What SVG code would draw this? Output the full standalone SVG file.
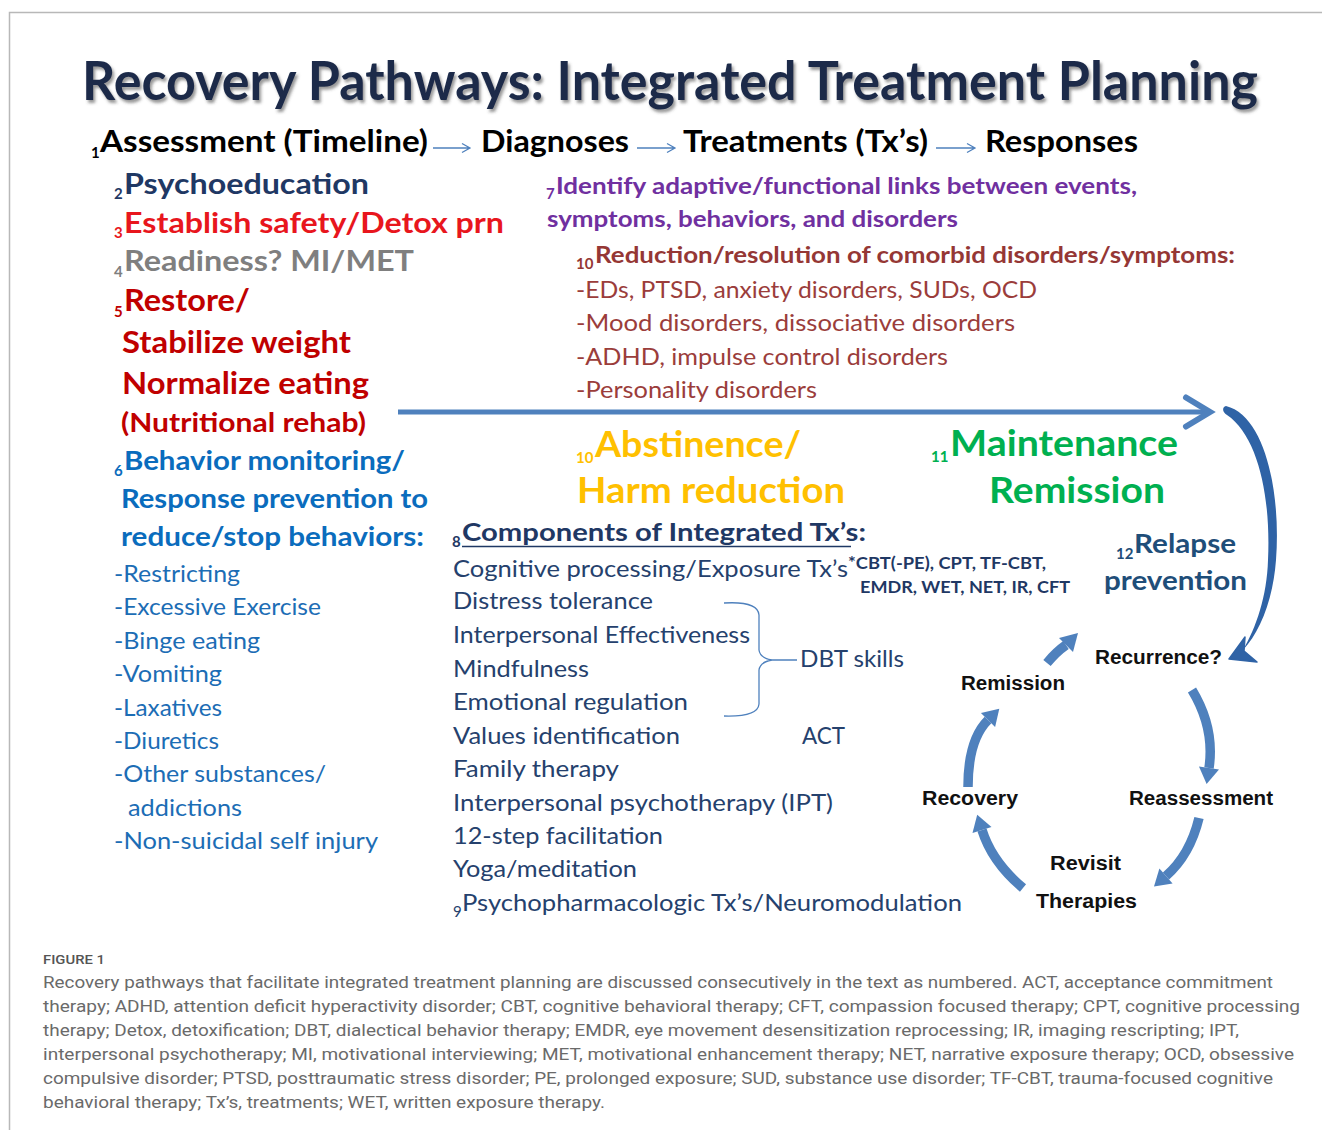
<svg xmlns="http://www.w3.org/2000/svg" width="1322" height="1130" viewBox="0 0 1322 1130">
  <defs>
    <filter id="titleShadow" x="-0.05" y="-0.5" width="1.1" height="2">
      <feDropShadow dx="2" dy="3" stdDeviation="1.8" flood-color="#444" flood-opacity="0.55"/>
    </filter>
    <style>
      .c { font-family: Lato, "Open Sans", "Liberation Sans", sans-serif; }
      .b { font-weight: 700; }
      .r { font-weight: 400; }
      .sub { font-family: Lato, "Liberation Sans", sans-serif; font-size: 15px; }
      .cyc { font-family: "Liberation Sans", Arial, sans-serif; font-weight: 700; font-size: 20px; fill: #111; }
      .cap { font-family: Roboto, "Liberation Sans", sans-serif; font-size: 17px; fill: #6a6a6a; }
      .thin { fill: none; stroke: #4f81bd; stroke-width: 1.3; }
      .cyclearc { fill: none; stroke: #4f81bd; stroke-width: 9.5; }
      .cyclehead { fill: #4f81bd; }
    </style>
  </defs>

  <rect width="1322" height="1130" fill="#fff"/>
  <!-- outer frame -->
  <path d="M9.5,1130 V12.5 H1322" fill="none" stroke="#b8b8b8" stroke-width="1.5"/>

  <!-- title -->
  <g id="title" filter="url(#titleShadow)">
    <text x="82" y="100" class="c b" font-size="53" fill="#1c2b4a" textLength="1176" lengthAdjust="spacingAndGlyphs">Recovery Pathways: Integrated Treatment Planning</text>
  </g>

  <!-- timeline header -->
  <g id="header" fill="#000">
    <text x="91" y="158" class="sub b">1</text>
    <text x="100" y="152" class="c b" font-size="31" textLength="328" lengthAdjust="spacingAndGlyphs">Assessment (Timeline)</text>
    <text x="481" y="152" class="c b" font-size="31" textLength="148" lengthAdjust="spacingAndGlyphs">Diagnoses</text>
    <text x="683" y="152" class="c b" font-size="31" textLength="245" lengthAdjust="spacingAndGlyphs">Treatments (Tx’s)</text>
    <text x="985" y="152" class="c b" font-size="31" textLength="153" lengthAdjust="spacingAndGlyphs">Responses</text>
  </g>

  <!-- early treatment steps -->
  <g id="step-psychoeducation" fill="#1f3864">
    <text x="114" y="199" class="sub b">2</text>
    <text x="124" y="194" class="c b" font-size="29" textLength="245" lengthAdjust="spacingAndGlyphs">Psychoeducation</text>
  </g>
  <g id="step-safety" fill="#e8161d">
    <text x="114" y="238" class="sub b">3</text>
    <text x="124" y="233" class="c b" font-size="29" textLength="380" lengthAdjust="spacingAndGlyphs">Establish safety/Detox prn</text>
  </g>
  <g id="step-readiness" fill="#7f7f7f">
    <text x="114" y="277" class="sub b">4</text>
    <text x="124" y="271" class="c b" font-size="29" textLength="290" lengthAdjust="spacingAndGlyphs">Readiness? MI/MET</text>
  </g>
  <g id="step-weight" fill="#c00000">
    <text x="114" y="317" class="sub b">5</text>
    <text x="124" y="311" class="c b" font-size="30" textLength="126" lengthAdjust="spacingAndGlyphs">Restore/</text>
    <text x="122" y="353" class="c b" font-size="30" textLength="229" lengthAdjust="spacingAndGlyphs">Stabilize weight</text>
    <text x="122" y="394" class="c b" font-size="30" textLength="247" lengthAdjust="spacingAndGlyphs">Normalize eating</text>
    <text x="121" y="432" class="c b" font-size="27" textLength="245" lengthAdjust="spacingAndGlyphs">(Nutritional rehab)</text>
  </g>
  <g id="step-behavior" fill="#0a6cbd">
    <text x="114" y="476" class="sub b">6</text>
    <text x="124" y="470" class="c b" font-size="27" textLength="281" lengthAdjust="spacingAndGlyphs">Behavior monitoring/</text>
    <text x="121" y="508" class="c b" font-size="27" textLength="307" lengthAdjust="spacingAndGlyphs">Response prevention to</text>
    <text x="121" y="546" class="c b" font-size="27" textLength="303" lengthAdjust="spacingAndGlyphs">reduce/stop behaviors:</text>
  </g>
  <g id="behaviors-list" class="c r" font-size="23" fill="#1c6db5">
    <text x="114" y="582" textLength="126" lengthAdjust="spacingAndGlyphs">-Restricting</text>
    <text x="114" y="615" textLength="207" lengthAdjust="spacingAndGlyphs">-Excessive  Exercise</text>
    <text x="114" y="649" textLength="146" lengthAdjust="spacingAndGlyphs">-Binge eating</text>
    <text x="114" y="682" textLength="108" lengthAdjust="spacingAndGlyphs">-Vomiting</text>
    <text x="114" y="716" textLength="108" lengthAdjust="spacingAndGlyphs">-Laxatives</text>
    <text x="114" y="749" textLength="105" lengthAdjust="spacingAndGlyphs">-Diuretics</text>
    <text x="114" y="782" textLength="212" lengthAdjust="spacingAndGlyphs">-Other  substances/</text>
    <text x="128" y="816" textLength="114" lengthAdjust="spacingAndGlyphs">addictions</text>
    <text x="114" y="849" textLength="264" lengthAdjust="spacingAndGlyphs">-Non-suicidal  self  injury</text>
  </g>

  <!-- links and comorbidity -->
  <g id="step-links" fill="#7030a0">
    <text x="546" y="199" class="sub b">7</text>
    <text x="556" y="194" class="c b" font-size="23" textLength="581" lengthAdjust="spacingAndGlyphs">Identify adaptive/functional  links between events,</text>
    <text x="547" y="227" class="c b" font-size="23" textLength="411" lengthAdjust="spacingAndGlyphs">symptoms,  behaviors,  and disorders</text>
  </g>
  <g id="step-comorbid" fill="#953735">
    <text x="576" y="269" class="sub b">10</text>
    <text x="595" y="263" class="c b" font-size="22" textLength="640" lengthAdjust="spacingAndGlyphs">Reduction/resolution  of comorbid  disorders/symptoms:</text>
    <g class="c r" font-size="23" fill="#9b3d3b">
      <text x="576" y="298" textLength="461" lengthAdjust="spacingAndGlyphs">-EDs,  PTSD,  anxiety disorders,  SUDs,  OCD</text>
      <text x="576" y="331" textLength="439" lengthAdjust="spacingAndGlyphs">-Mood disorders,  dissociative disorders</text>
      <text x="576" y="365" textLength="372" lengthAdjust="spacingAndGlyphs">-ADHD,  impulse control disorders</text>
      <text x="576" y="398" textLength="241" lengthAdjust="spacingAndGlyphs">-Personality disorders</text>
    </g>
  </g>

  <!-- outcomes -->
  <g id="outcome-abstinence" fill="#ffc000">
    <text x="576" y="463" class="sub b">10</text>
    <text x="595" y="457" class="c b" font-size="36" textLength="206" lengthAdjust="spacingAndGlyphs">Abstinence/</text>
    <text x="577" y="503" class="c b" font-size="36" textLength="268" lengthAdjust="spacingAndGlyphs">Harm reduction</text>
  </g>
  <g id="outcome-maintenance" fill="#00b050">
    <text x="931" y="462" class="sub b">11</text>
    <text x="950" y="456" class="c b" font-size="36" textLength="228" lengthAdjust="spacingAndGlyphs">Maintenance</text>
    <text x="989" y="503" class="c b" font-size="36" textLength="176" lengthAdjust="spacingAndGlyphs">Remission</text>
  </g>

  <!-- treatment components -->
  <g id="components" fill="#1f3864">
    <text x="452" y="547" class="sub b">8</text>
    <text x="462" y="541" class="c b" font-size="24.5" textLength="404" lengthAdjust="spacingAndGlyphs">Components of Integrated Tx’s:</text>
    <line x1="462" y1="546.5" x2="851" y2="546.5" stroke="#1f3864" stroke-width="1.6"/>
    <g class="c r" font-size="23" fill="#25416d">
      <text x="453" y="577" textLength="395" lengthAdjust="spacingAndGlyphs">Cognitive  processing/Exposure  Tx’s</text>
      <text x="453" y="609" textLength="200" lengthAdjust="spacingAndGlyphs">Distress tolerance</text>
      <text x="453" y="643" textLength="297" lengthAdjust="spacingAndGlyphs">Interpersonal  Effectiveness</text>
      <text x="453" y="677" textLength="136" lengthAdjust="spacingAndGlyphs">Mindfulness</text>
      <text x="453" y="710" textLength="235" lengthAdjust="spacingAndGlyphs">Emotional regulation</text>
      <text x="453" y="744" textLength="227" lengthAdjust="spacingAndGlyphs">Values identification</text>
      <text x="453" y="777" textLength="166" lengthAdjust="spacingAndGlyphs">Family therapy</text>
      <text x="453" y="811" textLength="380" lengthAdjust="spacingAndGlyphs">Interpersonal  psychotherapy (IPT)</text>
      <text x="453" y="844" textLength="210" lengthAdjust="spacingAndGlyphs">12-step facilitation</text>
      <text x="453" y="877" textLength="184" lengthAdjust="spacingAndGlyphs">Yoga/meditation</text>
      <text x="453" y="917" class="sub">9</text>
      <text x="462" y="911" textLength="500" lengthAdjust="spacingAndGlyphs">Psychopharmacologic Tx’s/Neuromodulation</text>
      <text x="800" y="667" textLength="104" lengthAdjust="spacingAndGlyphs">DBT skills</text>
      <text x="802" y="744" textLength="43" lengthAdjust="spacingAndGlyphs">ACT</text>
    </g>
    <g class="c b" font-size="17" fill="#1f3864">
      <text x="848" y="569" textLength="198" lengthAdjust="spacingAndGlyphs">*CBT(-PE), CPT, TF-CBT,</text>
      <text x="860" y="593" textLength="210" lengthAdjust="spacingAndGlyphs">EMDR, WET, NET, IR, CFT</text>
    </g>
  </g>

  <!-- relapse prevention -->
  <g id="relapse-prevention" fill="#1f4e79">
    <text x="1116" y="559" class="sub b" font-size="15">12</text>
    <text x="1134" y="553" class="c b" font-size="27" textLength="102" lengthAdjust="spacingAndGlyphs">Relapse</text>
    <text x="1104" y="590" class="c b" font-size="27" textLength="143" lengthAdjust="spacingAndGlyphs">prevention</text>
  </g>

  <!-- recovery cycle -->
  <g id="cycle-recurrence"><text x="1095" y="664" class="cyc" textLength="127" lengthAdjust="spacingAndGlyphs">Recurrence?</text></g>
  <g id="cycle-remission"><text x="961" y="690" class="cyc" textLength="104" lengthAdjust="spacingAndGlyphs">Remission</text></g>
  <g id="cycle-reassessment"><text x="1129" y="805" class="cyc" textLength="144" lengthAdjust="spacingAndGlyphs">Reassessment</text></g>
  <g id="cycle-recovery"><text x="922" y="805" class="cyc" textLength="96" lengthAdjust="spacingAndGlyphs">Recovery</text></g>
  <g id="cycle-revisit">
    <text x="1050" y="870" class="cyc" textLength="71" lengthAdjust="spacingAndGlyphs">Revisit</text>
    <text x="1036" y="908" class="cyc" textLength="101" lengthAdjust="spacingAndGlyphs">Therapies</text>
  </g>

  <g id="connectors">
    <!-- header arrows -->
    <g class="thin">
      <path d="M433,148 H470 M462,143.5 L470,148 L462,152.5"/>
      <path d="M637,148 H675 M667,143.5 L675,148 L667,152.5"/>
      <path d="M936,148 H975 M967,143.5 L975,148 L967,152.5"/>
    </g>
    <!-- DBT brace -->
    <path class="thin" d="M724,603 Q758,601 759,615 L759,650 Q760,658 772,660 L797,660 M772,660 Q760,662 759,670 L759,704 Q758,717 724,716"/>
    <!-- main timeline arrow -->
    <line x1="398" y1="412" x2="1206" y2="412" stroke="#4f81bd" stroke-width="5"/>
    <polyline points="1186,397.5 1210,412 1186,426.5" fill="none" stroke="#4f81bd" stroke-width="6" stroke-linejoin="miter" stroke-linecap="round"/>
    <!-- curved arrow to recurrence -->
    <path d="M1226,406 C1266,416 1281,495 1276,560 C1273,600 1260,632 1243,650 C1256,628 1267,596 1268,560 C1271,497 1258,436 1227,415 C1222,412 1222,407 1226,406 Z" fill="#2f63a6"/>
    <polygon points="1229,659 1245,637 1244,651 1257,662" fill="#2f63a6" stroke="#2f63a6" stroke-width="1.5" stroke-linejoin="round"/>
    <!-- cycle arrows -->
    <path class="cyclearc" d="M1047,663 Q1056,652 1066,645"/>
    <polygon class="cyclehead" points="1073,652 1059,638 1078,633"/>
    <path class="cyclearc" d="M1192,690 Q1215,728 1209,768"/>
    <polygon class="cyclehead" points="1219,769.5 1199,766.5 1206.6,784"/>
    <path class="cyclearc" d="M1199,818 Q1190,855 1166,876"/>
    <polygon class="cyclehead" points="1172.6,883.5 1159.4,868.5 1154,886.5"/>
    <path class="cyclearc" d="M1023,888 Q992,862 982,830"/>
    <polygon class="cyclehead" points="991.5,827 972.5,833 977.2,814.7"/>
    <path class="cyclearc" d="M968,787 Q968,740 988,720"/>
    <polygon class="cyclehead" points="995.1,727.1 980.9,712.9 999.3,708.7"/>
  </g>

  <!-- figure caption -->
  <g id="caption">
    <text x="43" y="964" font-family="Roboto, 'Liberation Sans', sans-serif" font-size="13" font-weight="500" fill="#555" textLength="62" lengthAdjust="spacingAndGlyphs">FIGURE 1</text>
    <text x="43" y="988" class="cap" textLength="1230" lengthAdjust="spacingAndGlyphs">Recovery pathways that facilitate integrated treatment planning are discussed consecutively in the text as numbered. ACT, acceptance commitment</text>
    <text x="43" y="1012" class="cap" textLength="1257" lengthAdjust="spacingAndGlyphs">therapy; ADHD, attention deficit hyperactivity disorder; CBT, cognitive behavioral therapy; CFT, compassion focused therapy; CPT, cognitive processing</text>
    <text x="43" y="1036" class="cap" textLength="1196" lengthAdjust="spacingAndGlyphs">therapy; Detox, detoxification; DBT, dialectical behavior therapy; EMDR, eye movement desensitization reprocessing; IR, imaging rescripting; IPT,</text>
    <text x="43" y="1060" class="cap" textLength="1251" lengthAdjust="spacingAndGlyphs">interpersonal psychotherapy; MI, motivational interviewing; MET, motivational enhancement therapy; NET, narrative exposure therapy; OCD, obsessive</text>
    <text x="43" y="1084" class="cap" textLength="1230" lengthAdjust="spacingAndGlyphs">compulsive disorder; PTSD, posttraumatic stress disorder; PE, prolonged exposure; SUD, substance use disorder; TF-CBT, trauma-focused cognitive</text>
    <text x="43" y="1108" class="cap" textLength="562" lengthAdjust="spacingAndGlyphs">behavioral therapy; Tx’s, treatments; WET, written exposure therapy.</text>
  </g>
</svg>
